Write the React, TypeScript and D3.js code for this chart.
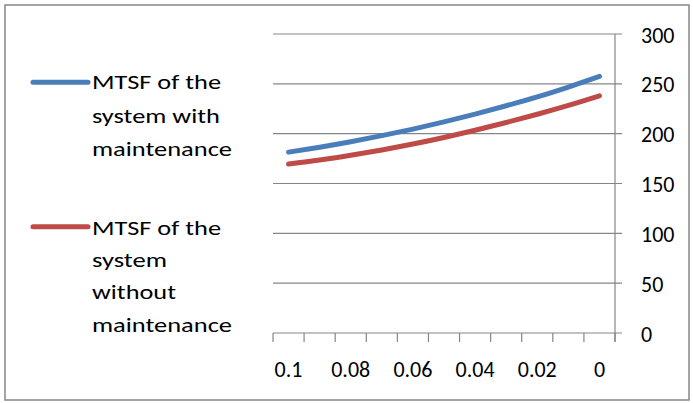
import React from "react";
import * as d3 from "d3";

// Failure rate categories (axis runs from 0.1 down to 0)
const categories = ["0.1", "0.09", "0.08", "0.07", "0.06", "0.05", "0.04", "0.03", "0.02", "0.01", "0"];
const shownLabels = ["0.1", "0.08", "0.06", "0.04", "0.02", "0"];
const yTicks = [0, 50, 100, 150, 200, 250, 300];

const withMaintenance = [181.5, 186.4, 191.9, 198, 204.6, 211.8, 219.6, 228, 236.9, 246.8, 257.5];
const withoutMaintenance = [169.5, 173.6, 178.4, 183.7, 189.6, 196.2, 203.4, 211.2, 219.5, 228.4, 238];

const seriesNames = [
  ["MTSF of the", "system with", "maintenance"],
  ["MTSF of the", "system", "without", "maintenance"],
];
const seriesColors = ["#4A7EBB", "#BE4B48"];

const W = 693;
const H = 403;
const FONT = "Carlito, Calibri, Lato, sans-serif";
const GRID = "#868686";

export default function App() {
  const x = d3.scaleBand<string>().domain(categories).range([273, 615]);
  const y = d3.scaleLinear().domain([0, 300]).range([333, 34]);
  const cx = (c: string) => (x(c) as number) + x.bandwidth() / 2;

  const line = d3
    .line<number>()
    .x((_, i) => cx(categories[i]))
    .y((v) => y(v))
    .curve(d3.curveCatmullRom.alpha(0.5));

  const series = [withMaintenance, withoutMaintenance];
  const boundaries = [...categories.map((c) => x(c) as number), 615];

  // legend layout: each entry has a swatch and wrapped label lines
  const legend = [
    { swatchY: 82.3, baselines: [89.3, 122.7, 156] },
    { swatchY: 226.7, baselines: [235, 267, 299.3, 331.7] },
  ];
  const lineWidths: Record<string, number> = {
    "MTSF of the": 129,
    "system with": 128,
    maintenance: 140,
    system: 75,
    without: 84,
  };

  return (
    <svg
      width={W}
      height={H}
      style={{ position: "absolute", left: 0, top: 0, background: "#fff" }}
      fontFamily={FONT}
    >
      <rect x={0} y={0} width={W} height={H} fill="#fff" />
      <rect x={5} y={5} width={684} height={395} fill="none" stroke={GRID} strokeWidth={1.5} />

      {/* horizontal gridlines with outside ticks on the right axis */}
      {yTicks.map((t) => (
        <line key={"g" + t} x1={273} x2={622} y1={y(t)} y2={y(t)} stroke={GRID} strokeWidth={1.2} />
      ))}
      {/* value axis on the right */}
      <line x1={615} x2={615} y1={y(300)} y2={342} stroke={GRID} strokeWidth={1.2} />
      {/* category axis ticks */}
      {boundaries.map((b, i) => (
        <line key={"t" + i} x1={b} x2={b} y1={y(0)} y2={342} stroke={GRID} strokeWidth={1.2} />
      ))}

      {yTicks.map((t) => (
        <text key={"yl" + t} x={641} y={y(t) + 8.5} fontSize={22} fill="#000">
          {t}
        </text>
      ))}
      {categories.map((c) =>
        shownLabels.includes(c) ? (
          <text key={"xl" + c} x={cx(c)} y={377} fontSize={22} textAnchor="middle" fill="#000">
            {c}
          </text>
        ) : null
      )}

      {series.map((s, i) => (
        <path
          key={"s" + i}
          d={line(s) || ""}
          fill="none"
          stroke={seriesColors[i]}
          strokeWidth={5}
          strokeLinecap="round"
          strokeLinejoin="round"
        />
      ))}

      {legend.map((l, i) => (
        <g key={"lg" + i}>
          <line x1={33} x2={88} y1={l.swatchY} y2={l.swatchY} stroke={seriesColors[i]} strokeWidth={5} strokeLinecap="round" />
          {seriesNames[i].map((txt, j) => (
            <text
              key={j}
              x={92}
              y={l.baselines[j]}
              fontSize={20.5}
              fill="#000"
              textLength={lineWidths[txt]}
              lengthAdjust="spacingAndGlyphs"
            >
              {txt}
            </text>
          ))}
        </g>
      ))}
    </svg>
  );
}
